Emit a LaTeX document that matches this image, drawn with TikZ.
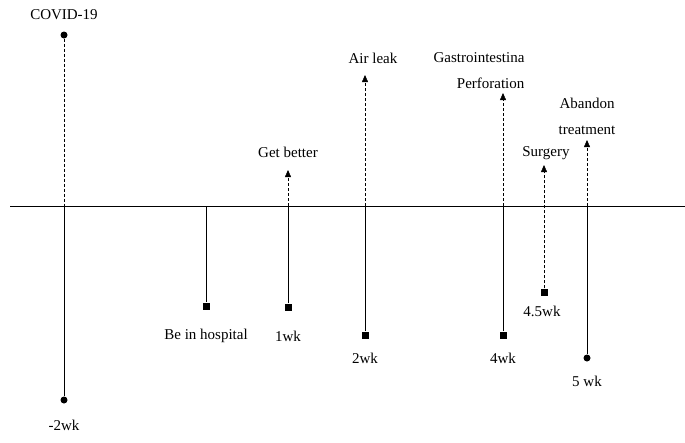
\documentclass[tikz,border=0pt]{standalone}
\usepackage{fontspec}
\setmainfont{Liberation Serif}
\usetikzlibrary{positioning,arrows.meta}
\tikzset{
  dot/.style={circle,fill,inner sep=0pt,minimum size=7pt},
  sq/.style={rectangle,fill,inner sep=0pt,minimum size=7pt},
  lbl/.style={font=\fontsize{15}{26}\selectfont,align=center},
  tip/.style={coordinate},
  up/.style={densely dashed,-{Triangle[width=6pt,length=7pt]}}
}
\begin{document}
\begin{tikzpicture}[x=1pt,y=-1pt]
			\useasboundingbox (0,0) rectangle (685,442);

			\draw (10,206) -- (685,206);

			% -2wk
			\node[dot] (c0) at (64,35) {};
			\node[dot] (c1) at (64,400) {};
			\coordinate (a0) at (64,206);
			\node[lbl] (t0) at (64,15) {COVID-19};
			\node[lbl] (w0) at (64,425) {-2wk};
			\draw[densely dashed] (c0) -- (a0);
			\draw (a0) -- (c1);

			% hospital
			\node[sq] (h1) at (206,306) {};
			\coordinate (ah) at (206,206);
			\node[lbl] (wh) at (206,336) {Be in hospital};
			\draw (ah) -- (h1);

			% 1wk
			\node[sq] (s1) at (288,307) {};
			\coordinate (a1) at (288,206);
			\coordinate (e1) at (288,170);
			\node[lbl] (t1) at (288,152) {Get better};
			\node[lbl] (w1) at (288,336) {1wk};
			\draw (s1) -- (a1);
			\draw[up] (a1) -- (e1);

			% 2wk
			\node[sq] (s2) at (365,335) {};
			\coordinate (a2) at (365,206);
			\coordinate (e2) at (365,75);
			\node[lbl] (t2) at (373,58) {Air leak};
			\node[lbl] (w2) at (365,358) {2wk};
			\draw (s2) -- (a2);
			\draw[up] (a2) -- (e2);

			% 4wk
			\node[sq] (s3) at (503,335) {};
			\coordinate (a3) at (503,206);
			\coordinate (e3) at (503,93);
			\node[lbl,align=right] (t3) at (479,71) {Gastrointestina\\Perforation};
			\node[lbl] (w3) at (503,358) {4wk};
			\draw (s3) -- (a3);
			\draw[up] (a3) -- (e3);

			% 4.5wk
			\node[sq] (s4) at (544,292) {};
			\coordinate (e4) at (544,165);
			\node[lbl] (t4) at (546,153) {Surgery};
			\node[lbl] (w4) at (542,311) {4.5wk};
			\draw[up] (s4) -- (e4);

			% 5 wk
			\node[dot] (s5) at (587,358) {};
			\coordinate (a5) at (587,206);
			\coordinate (e5) at (587,140);
			\node[lbl] (t5) at (587,116) {Abandon\\treatment};
			\node[lbl] (w5) at (587,381) {5 wk};
			\draw (s5) -- (a5);
			\draw[up] (a5) -- (e5);
		\end{tikzpicture}
\end{document}
